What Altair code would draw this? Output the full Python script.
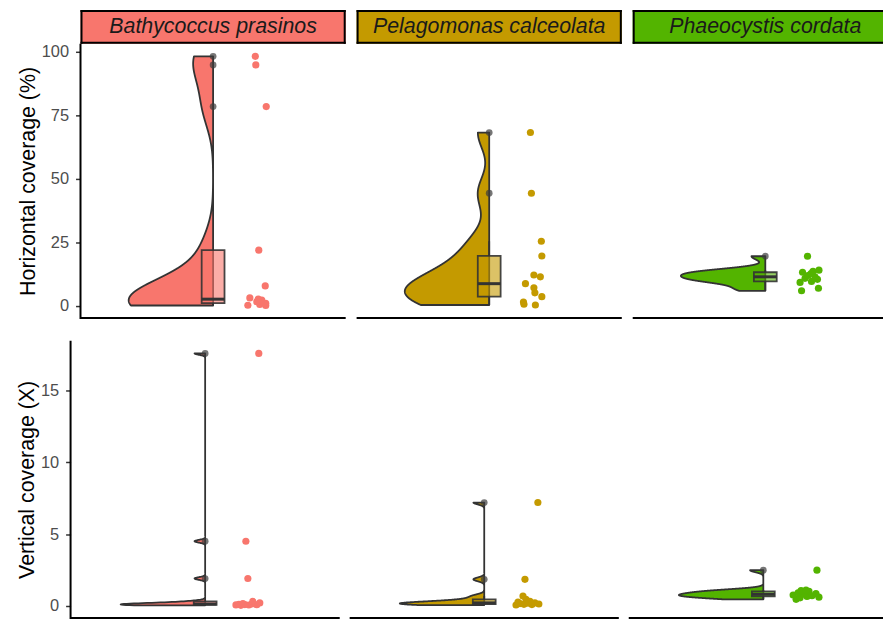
import altair as alt
import numpy as np
import pandas as pd

FONT = "Liberation Sans"
DARK = "#333333"

species = ["Bathycoccus prasinos", "Pelagomonas calceolata", "Phaeocystis cordata"]
colors = ["#F8766D", "#C49A00", "#53B400"]

# Horizontal coverage (%) per species
h_bathy = [0.1, 0.2, 0.5, 1.0, 1.6, 2.2, 2.6, 3.1, 7.8, 21.9, 78.4, 94.8, 98.2]
h_pelago = [0.3, 0.6, 1.5, 3.6, 5.1, 7.1, 8.7, 11.4, 12.1, 19.6, 25.4, 44.3, 68.2]
h_phaeo = [5.9, 6.9, 9.2, 9.6, 10.4, 10.8, 11.4, 11.9, 12.7, 13.2, 13.6, 14.0, 19.5]

# Vertical coverage (X) per species
v_bathy = [0.03, 0.05, 0.06, 0.07, 0.08, 0.1, 0.12, 0.15, 0.2, 0.3, 1.9, 4.5, 17.6]
v_pelago = [0.05, 0.08, 0.1, 0.12, 0.15, 0.18, 0.2, 0.25, 0.3, 0.45, 0.68, 1.84, 7.2]
v_phaeo = [0.45, 0.55, 0.6, 0.65, 0.7, 0.75, 0.8, 0.85, 0.9, 1.0, 1.05, 1.1, 2.48]

# horizontal jitter of the raw points
hj_bathy = [53, 35, 47, 53, 44, 49, 45.5, 37, 52.5, 46, 53.5, 43, 42.5]
hj_pelago = [46.5, 35, 34.5, 53, 46, 45, 36.5, 51.5, 45, 53, 52.5, 42.5, 41.5]
hj_phaeo = [36.5, 53.5, 35, 46.5, 52.5, 40, 50, 43, 46, 37.5, 48, 54, 42.5]
vj_bathy = [36, 44, 31, 52, 40, 34, 47, 38, 55, 48, 43, 41, 54]
vj_pelago = [32, 48, 40, 55, 36, 44, 51, 34, 46, 42, 39, 41, 54]
vj_phaeo = [33, 37, 56, 44, 49, 30, 40, 53, 35, 46, 38, 43, 54]

h_ticks = [0, 25, 50, 75, 100]
v_ticks = [0, 5, 10, 15]

h_vals = [h_bathy, h_pelago, h_phaeo]
v_vals = [v_bathy, v_pelago, v_phaeo]
h_jit = [hj_bathy, hj_pelago, hj_phaeo]
v_jit = [vj_bathy, vj_pelago, vj_phaeo]

VIOLIN_W = 85
BOX_HW = 11.5
STRIP_H = 34


def nrd0(x):
    x = np.asarray(x, float)
    hi = x.std(ddof=1)
    q75, q25 = np.percentile(x, [75, 25])
    lo = min(hi, (q75 - q25) / 1.34)
    if lo == 0:
        lo = hi or abs(x[0]) or 1.0
    return float(0.9 * lo * len(x) ** -0.2)


def expand(rows):
    allv = np.concatenate([np.asarray(r, float) for r in rows])
    lo, hi = allv.min(), allv.max()
    pad = 0.05 * (hi - lo)
    return [float(lo - pad), float(hi + pad)]


ONE = pd.DataFrame({"k": [0]})


def box_px(x, x2, y, y2, color):
    # plain filled rectangle in pixel space (axis lines / strip borders)
    return alt.Chart(ONE).mark_rect(fill=color, strokeWidth=0).encode(
        x=alt.value(x), x2=alt.value(x2), y=alt.value(y), y2=alt.value(y2))


def panel(vals, jit, color, full_w, draw_w, lpad, height, ydom, yaxis,
          strip=None, strip_right=True):
    df = pd.DataFrame({"v": vals, "j": jit})
    base = alt.Chart(df)
    width = lpad + draw_w
    xdom = [-(lpad + full_w / 2), draw_w - full_w / 2]
    xs = alt.Scale(domain=xdom, nice=False, zero=False)
    ys = alt.Scale(domain=ydom, nice=False, zero=False)

    def Y(f):
        return alt.Y(f, type="quantitative", scale=ys, axis=yaxis)

    def X(f):
        return alt.X(f, type="quantitative", scale=xs, axis=None)

    def XD(d):
        return alt.XDatum(d, type="quantitative", scale=xs, axis=None)

    bw = nrd0(vals)
    violin = (
        base.transform_density("v", as_=["v", "dens"], bandwidth=bw,
                               extent=[float(min(vals)), float(max(vals))], steps=1500)
        .transform_joinaggregate(maxd="max(dens)")
        .transform_calculate(w=f"-datum.dens / datum.maxd * {VIOLIN_W}")
        .mark_area(orient="horizontal", fill=color, stroke=DARK, strokeWidth=1.8,
                   strokeJoin="round")
        .encode(y=Y("v"), x=X("w"), x2=alt.X2Datum(0))
    )

    stats = (
        base.transform_joinaggregate(q1="q1(v)", q3="q3(v)", med="median(v)")
        .transform_calculate(lo="datum.q1 - 1.5 * (datum.q3 - datum.q1)",
                             hi="datum.q3 + 1.5 * (datum.q3 - datum.q1)")
    )
    inl = stats.transform_filter("datum.v >= datum.lo && datum.v <= datum.hi").transform_aggregate(
        wlo="min(v)", whi="max(v)", groupby=["q1", "q3", "med"])
    wh_up = inl.mark_rule(color=DARK, strokeWidth=1.8).encode(x=XD(0), y=Y("q3"), y2=alt.Y2("whi"))
    wh_lo = inl.mark_rule(color=DARK, strokeWidth=1.8).encode(x=XD(0), y=Y("wlo"), y2=alt.Y2("q1"))
    box = inl.mark_rect(fill=color, fillOpacity=0.6, stroke=DARK, strokeWidth=1.8,
                        strokeOpacity=0.9).encode(
        x=XD(-BOX_HW), x2=alt.X2Datum(BOX_HW), y=Y("q1"), y2=alt.Y2("q3"))
    med = inl.mark_rule(color=DARK, strokeWidth=3).encode(
        x=XD(-BOX_HW), x2=alt.X2Datum(BOX_HW), y=Y("med"))
    outl = stats.transform_filter("datum.v < datum.lo || datum.v > datum.hi").mark_circle(
        color="#3c3c3c", opacity=0.7, size=46).encode(x=XD(0), y=Y("v"))
    pts = base.mark_circle(color=color, opacity=1, size=52).encode(x=X("j"), y=Y("v"))

    layers = [violin, wh_up, wh_lo, box, med, outl, pts]

    # axis lines (theme_classic)
    layers.append(box_px(lpad, width, height - 1, height + 1, "black"))
    if yaxis is not None:
        layers.append(box_px(lpad - 1, lpad + 1, 0, height + 1, "black"))

    if strip is not None:
        t = -STRIP_H
        layers.append(box_px(lpad, width, t, 0, color))
        layers.append(box_px(lpad, width, t, t + 2, "black"))
        layers.append(box_px(lpad, width, -2, 0, "black"))
        layers.append(box_px(lpad, lpad + 2, t, 0, "black"))
        if strip_right:
            layers.append(box_px(width - 2, width, t, 0, "black"))
        sb = alt.Chart(pd.DataFrame({"label": [strip]}))
        layers.append(sb.mark_text(font=FONT, fontSize=21.5, fontStyle="italic", color="#1a1a1a",
                                   align="center", baseline="middle").encode(
            x=alt.value(lpad + full_w / 2), y=alt.value(t / 2 + 0.5), text="label:N"))

    return alt.layer(*layers).properties(width=width, height=height)


h_dom = expand(h_vals)
v_dom = expand(v_vals)

FULL_TOP = 267
FULL_BOT = 271
W_top = [267, 267, 252]
W_bot = [271, 271, 256]
LPAD_TOP = 10
H_top = 276
H_bot = 279

top_cells = []
for i in range(3):
    lp = LPAD_TOP if i == 0 else 0
    yaxis = alt.Axis(title="Horizontal coverage (%)", values=h_ticks, grid=False,
                     domain=False, offset=-LPAD_TOP) if i == 0 else None
    top_cells.append(panel(h_vals[i], h_jit[i], colors[i], FULL_TOP, W_top[i], lp, H_top,
                           h_dom, yaxis, strip=species[i], strip_right=(i < 2)))

bot_cells = []
for i in range(3):
    yaxis = alt.Axis(title="Vertical coverage (X)", values=v_ticks, grid=False,
                     domain=False) if i == 0 else None
    bot_cells.append(panel(v_vals[i], v_jit[i], colors[i], FULL_BOT, W_bot[i], 0, H_bot,
                           v_dom, yaxis))

top_row = alt.hconcat(*top_cells, spacing=11)
bot_row = alt.hconcat(*bot_cells, spacing=10)

chart = (
    alt.vconcat(top_row, bot_row, spacing=22)
    .properties(padding={"left": 8, "top": 0, "right": 0, "bottom": 0})
    .configure_view(stroke=None)
    .configure_axis(
        labelFont=FONT, titleFont=FONT, labelFontSize=16.5, labelColor="#4d4d4d",
        titleFontSize=21.5, titleFontWeight="normal", titleColor="black",
        tickColor=DARK, tickWidth=1.5, tickSize=5, labelPadding=7, titlePadding=2,
        grid=False,
    )
)

chart.save("out.html", embed_options={"renderer": "svg", "actions": False})
